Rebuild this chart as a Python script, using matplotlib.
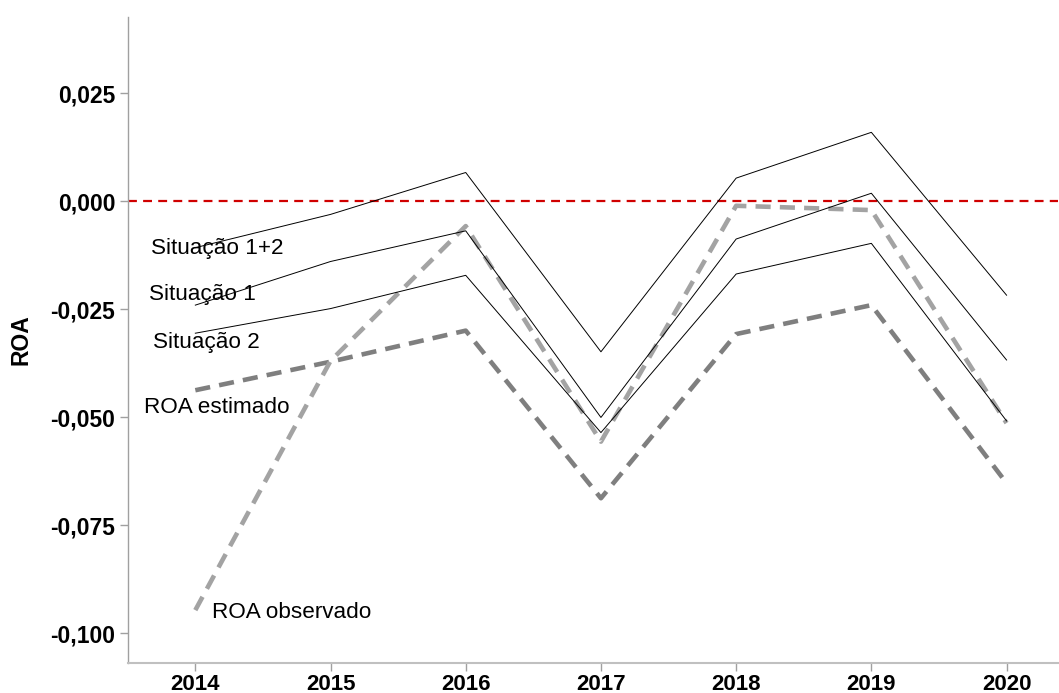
import numpy as np
import matplotlib
matplotlib.use('Agg')
import matplotlib.pyplot as plt

plt.rcParams['font.family'] = ['Liberation Sans', 'DejaVu Sans']

# ROA series by year
anos = [2014, 2015, 2016, 2017, 2018, 2019, 2020]
sit_1_2 = [-0.0108, -0.0031, 0.0066, -0.0349, 0.0053, 0.0159, -0.0218]
sit_1 = [-0.0241, -0.0140, -0.0069, -0.0501, -0.0088, 0.0018, -0.0368]
sit_2 = [-0.0306, -0.0249, -0.0172, -0.0536, -0.0169, -0.0098, -0.0509]
roa_estimado = [-0.0438, -0.0372, -0.0300, -0.0688, -0.0308, -0.0241, -0.0653]
roa_observado = [-0.0947, -0.0370, -0.0058, -0.0557, -0.0011, -0.0021, -0.0514]

yticks = [0.025, 0.0, -0.025, -0.050, -0.075, -0.100]

fig = plt.figure(figsize=(10.59, 6.93), dpi=100)
ax = fig.add_axes([0.1206, 0.0429, 0.8784, 0.9326])

ax.axhline(0, color='#d00000', lw=1.6, ls=(0, (4, 2.8)), zorder=1)

ax.plot(anos, roa_estimado, color='#7f7f7f', lw=3.3, ls=(0, (3.3, 2.0)), zorder=2)
ax.plot(anos, roa_observado, color='#a3a3a3', lw=3.3, ls=(0, (3.3, 2.0)), zorder=2)
for serie in (sit_1_2, sit_1, sit_2):
    ax.plot(anos, serie, color='black', lw=0.7, zorder=3)

# series labels
fs = 16.2
ax.text(2013.673, -0.01227, 'Situação 1+2', fontsize=fs, va='baseline')
ax.text(2013.66, -0.0229, 'Situação 1', fontsize=fs, va='baseline')
ax.text(2013.69, -0.0340, 'Situação 2', fontsize=fs, va='baseline')
ax.text(2013.623, -0.0491, 'ROA estimado', fontsize=fs, va='baseline')
ax.text(2014.123, -0.0966, 'ROA observado', fontsize=fs, va='baseline')

ax.set_xlim(2013.50, 2020.38)
ax.set_ylim(-0.1070, 0.0426)
ax.set_xticks(anos)
ax.set_xticklabels([str(a) for a in anos], fontsize=16, fontweight='bold')
ax.set_yticks(yticks)
ax.set_yticklabels([('%.3f' % v).replace('.', ',') for v in yticks],
                   fontsize=16.5, fontweight='bold')
ax.set_ylabel('ROA', fontsize=16.5, fontweight='bold')
ax.yaxis.set_label_coords(-0.102, 0.50)

for s in ('top', 'right'):
    ax.spines[s].set_visible(False)
ax.spines['left'].set_color('#a0a0a0')
ax.spines['bottom'].set_color('#c0c0c0')
ax.spines['left'].set_linewidth(1.0)
ax.spines['bottom'].set_linewidth(1.5)
ax.tick_params(axis='both', color='#a0a0a0', length=6, width=1)
ax.tick_params(axis='x', pad=1.5)
ax.tick_params(axis='y', pad=3)

fig.savefig('out.png', dpi=100)
